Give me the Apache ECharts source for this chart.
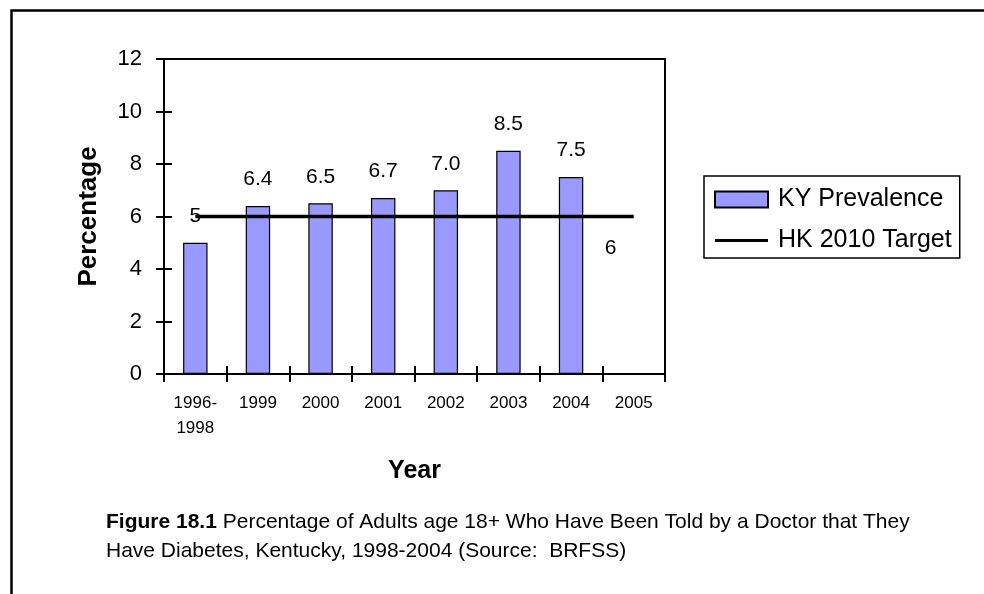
<!DOCTYPE html>
<html>
<head>
<meta charset="utf-8">
<script src="https://cdn.jsdelivr.net/npm/echarts@6/dist/echarts.min.js"></script>
<style>
html,body{margin:0;padding:0;background:#fff;}
#chart{width:984px;height:594px;}
</style>
</head>
<body>
<div id="chart"></div>
<script>
var categories = ['1996-\n1998', '1999', '2000', '2001', '2002', '2003', '2004', '2005'];
var prevalence = [5, 6.4, 6.5, 6.7, 7.0, 8.5, 7.5, '-'];
var prevalenceLabels = ['5', '6.4', '6.5', '6.7', '7.0', '8.5', '7.5', ''];
var target = [6, 6, 6, 6, 6, 6, 6, 6];
var yTicks = [0, 2, 4, 6, 8, 10, 12];

var FONT = 'Liberation Sans, Arial, sans-serif';
var chart = echarts.init(document.getElementById('chart'), null, {renderer: 'canvas'});

var grid = {left: 164, top: 59, width: 501, height: 315, show: true, borderColor: '#000', borderWidth: 2, backgroundColor: 'transparent'};

var option = {
  backgroundColor: '#fff',
  animation: false,
  grid: grid,
  legend: {
    orient: 'vertical',
    left: 704, top: 176,
    padding: [11, 8, 5, 10],
    itemGap: 16,
    itemWidth: 53, itemHeight: 16,
    borderColor: '#000', borderWidth: 1.5,
    textStyle: {fontFamily: FONT, fontSize: 25, color: '#000', padding: [0, 0, 0, 5]},
    data: [
      {name: 'KY Prevalence', icon: 'rect'},
      {name: 'HK 2010 Target', icon: 'path://M0,0H100V6H0Z'}
    ]
  },
  xAxis: [{
    type: 'category', data: categories, boundaryGap: true,
    axisLine: {show: true, lineStyle: {color: '#000', width: 2}},
    axisTick: {show: true, length: 8, lineStyle: {color: '#000', width: 2}},
    axisLabel: {fontFamily: FONT, fontSize: 17, color: '#000', margin: 17, lineHeight: 25, interval: 0},
    name: 'Year', nameLocation: 'middle', nameGap: 85,
    nameTextStyle: {fontFamily: FONT, fontSize: 25, fontWeight: 'bold', color: '#000'}
  }, {
    type: 'category', data: categories, boundaryGap: true, position: 'bottom',
    axisLine: {show: false},
    axisTick: {show: true, inside: true, length: 8, lineStyle: {color: '#000', width: 2}},
    axisLabel: {show: false}
  }],
  yAxis: [{
    type: 'value', min: yTicks[0], max: yTicks[yTicks.length - 1], interval: 2,
    axisLine: {show: true, lineStyle: {color: '#000', width: 2}},
    axisTick: {show: true, length: 8, lineStyle: {color: '#000', width: 2}},
    axisLabel: {fontFamily: FONT, fontSize: 22, color: '#000', margin: 22},
    splitLine: {show: false},
    name: 'Percentage', nameLocation: 'middle', nameGap: 62, nameRotate: 90,
    nameTextStyle: {fontFamily: FONT, fontSize: 26, fontWeight: 'bold', color: '#000'}
  }, {
    type: 'value', min: yTicks[0], max: yTicks[yTicks.length - 1], interval: 2, position: 'left',
    axisLine: {show: false},
    axisTick: {show: true, inside: true, length: 8, lineStyle: {color: '#000', width: 2}},
    axisLabel: {show: false},
    splitLine: {show: false}
  }],
  series: [{
    name: 'KY Prevalence', type: 'bar', xAxisIndex: 0, yAxisIndex: 0,
    data: prevalence,
    barWidth: '39%',
    itemStyle: {color: '#9999FF', borderColor: '#000', borderWidth: 1.2},
    label: {
      show: true, position: 'top', distance: 16,
      fontFamily: FONT, fontSize: 21, color: '#000',
      formatter: function (p) { return prevalenceLabels[p.dataIndex]; }
    },
    z: 2
  }, {
    name: 'HK 2010 Target', type: 'line', xAxisIndex: 0, yAxisIndex: 0,
    data: target.map(function (v, i) {
      return i === target.length - 1 ? {value: v, label: {show: true}} : v;
    }),
    symbol: 'circle', symbolSize: 0.1,
    color: '#000',
    itemStyle: {color: '#000'},
    lineStyle: {color: '#000', width: 3.5},
    label: {
      show: false, position: 'inside', offset: [-23, 32],
      fontFamily: FONT, fontSize: 21, color: '#000',
      formatter: function (p) { return String(p.value); }
    },
    z: 3
  }],
  graphic: [{
    type: 'polyline',
    shape: {points: [[11.5, 594], [11.5, 10.5], [984, 10.5]]},
    style: {stroke: '#000', lineWidth: 2.5, fill: null},
    silent: true
  }, {
    type: 'text', left: 106, top: 508,
    style: {
      text: '{b|Figure 18.1} Percentage of Adults age 18+ Who Have Been Told by a Doctor that They\nHave Diabetes, Kentucky, 1998-2004 (Source:  BRFSS)',
      fontFamily: FONT, fontSize: 21, lineHeight: 29, fill: '#000',
      rich: {b: {fontFamily: FONT, fontSize: 21, fontWeight: 'bold', lineHeight: 29}}
    }
  }]
};
chart.setOption(option);
</script>
</body>
</html>
